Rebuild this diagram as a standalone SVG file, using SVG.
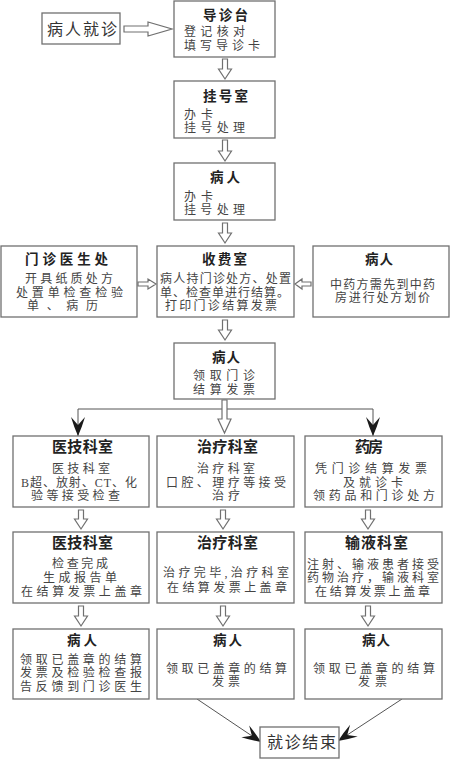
<svg xmlns="http://www.w3.org/2000/svg" width="450" height="759" viewBox="0 0 450 759">
<style>
.box{fill:#fff;stroke:#707070;stroke-width:1.3}
.t{font-family:"Noto Sans CJK SC",sans-serif;font-weight:bold;font-size:13.5px;fill:#222}
.t2{font-family:"Noto Sans CJK SC",sans-serif;font-weight:bold;font-size:15px;fill:#222}
.b{font-family:"Liberation Serif","Noto Sans CJK SC",serif;font-size:12px;fill:#444}
.big{font-family:"Noto Sans CJK SC",sans-serif;font-size:16px;fill:#333}
.ha{fill:#fff;stroke:#707070;stroke-width:1.2}
.ln{fill:none;stroke:#555;stroke-width:1}
.bh{fill:#1a1a1a}
</style>
<defs>
<path id="head" class="bh" d="M0,0 Q-9,-4 -19,-7 L-11,0 L-19,7 Q-9,4 0,0 Z"/>
</defs>
<rect width="450" height="759" fill="#fff"/>
<g id="connectors">
<path class="ha" d="M124,26 H148 V22 L172,29 L148,36 V32 H124 Z"/>
<path class="ha" d="M222.5,59 H227.5 V69 H231.5 L225,79 L218.5,69 H222.5 Z"/>
<path class="ha" d="M222.5,140 H227.5 V151 H231.5 L225,161 L218.5,151 H222.5 Z"/>
<path class="ha" d="M222.5,223 H227.5 V233 H231.5 L225,243 L218.5,233 H222.5 Z"/>
<path class="ha" d="M138,282 H148 V279 L156,284 L148,289 V286 H138 Z"/>
<path class="ha" d="M311,282 H302 V279 L295,284 L302,289 V286 H311 Z"/>
<path class="ha" d="M222.5,320 H227.5 V330 H231.5 L225,340 L218.5,330 H222.5 Z"/>
<path class="ln" d="M78,436 V409 H373 V436"/>
<use href="#head" transform="translate(78,436) rotate(90)"/>
<use href="#head" transform="translate(373,436) rotate(90)"/>
<path class="ha" d="M222,400 H227 V419 H231 L224.5,433 L218,419 H222 Z"/>
<path class="ha" d="M78.5,510 H83.5 V519 H87.5 L81,529 L74.5,519 H78.5 Z"/>
<path class="ha" d="M220.5,510 H225.5 V519 H229.5 L223,529 L216.5,519 H220.5 Z"/>
<path class="ha" d="M365.5,510 H370.5 V519 H374.5 L368,529 L361.5,519 H365.5 Z"/>
<path class="ha" d="M78.5,606 H83.5 V616 H87.5 L81,626 L74.5,616 H78.5 Z"/>
<path class="ha" d="M220.5,606 H225.5 V616 H229.5 L223,626 L216.5,616 H220.5 Z"/>
<path class="ha" d="M365.5,606 H370.5 V616 H374.5 L368,626 L361.5,616 H365.5 Z"/>
<line class="ln" x1="197" y1="699" x2="258" y2="740"/>
<line class="ln" x1="402" y1="699" x2="341" y2="739"/>
<use href="#head" transform="translate(261,742) rotate(34)"/>
<use href="#head" transform="translate(338,741) rotate(147)"/>
</g>
<g id="start">
<rect class="box" x="42" y="13" width="78" height="31"/>
<text class="big" x="47" y="35" textLength="70">病人就诊</text>
</g>
<g id="guide">
<rect class="box" x="174" y="1" width="101" height="56"/>
<text class="t" x="203" y="20" textLength="45">导诊台</text>
<text class="b" x="184" y="36" textLength="61">登记核对</text>
<text class="b" x="184" y="50" textLength="76">填写导诊卡</text>
</g>
<g id="register">
<rect class="box" x="174" y="81" width="101" height="57"/>
<text class="t" x="203" y="101" textLength="45">挂号室</text>
<text class="b" x="184" y="119" textLength="29">办卡</text>
<text class="b" x="184" y="132" textLength="61">挂号处理</text>
</g>
<g id="patient1">
<rect class="box" x="174" y="163" width="101" height="57"/>
<text class="t" x="210" y="182" textLength="30">病人</text>
<text class="b" x="184" y="201" textLength="29">办卡</text>
<text class="b" x="184" y="214" textLength="61">挂号处理</text>
</g>
<g id="doctor">
<rect class="box" x="1" y="246" width="136" height="71"/>
<text class="t" x="25" y="264" textLength="83">门诊医生处</text>
<text class="b" x="25" y="283" textLength="88">开具纸质处方</text>
<text class="b" x="16" y="297" textLength="107">处置单检查检验</text>
<text class="b" x="27" y="310" textLength="71">单、病历</text>
</g>
<g id="cashier">
<rect class="box" x="157" y="246" width="137" height="71"/>
<text class="t" x="202" y="264" textLength="45">收费室</text>
<text class="b" x="160" y="283" textLength="131">病人持门诊处方、处置</text>
<text class="b" x="160" y="297" textLength="129">单、检查单进行结算。</text>
<text class="b" x="165" y="310" textLength="112">打印门诊结算发票</text>
</g>
<g id="patient-herb">
<rect class="box" x="313" y="246" width="136" height="71"/>
<text class="t" x="365" y="264" textLength="28">病人</text>
<text class="b" x="330" y="289" textLength="105">中药方需先到中药</text>
<text class="b" x="335" y="302" textLength="95">房进行处方划价</text>
</g>
<g id="patient2">
<rect class="box" x="174" y="343" width="101" height="56"/>
<text class="t" x="212" y="362" textLength="28">病人</text>
<text class="b" x="193" y="380" textLength="62">领取门诊</text>
<text class="b" x="193" y="394" textLength="62">结算发票</text>
</g>
<g id="medtech1">
<rect class="box" x="13" y="436" width="136" height="71"/>
<text class="t2" x="52" y="452" textLength="61">医技科室</text>
<text class="b" x="52" y="473" textLength="58">医技科室</text>
<text class="b" x="21" y="487" textLength="116">B超、放射、CT、化</text>
<text class="b" x="31" y="500" textLength="89">验等接受检查</text>
</g>
<g id="treat1">
<rect class="box" x="157" y="436" width="137" height="71"/>
<text class="t2" x="197" y="452" textLength="61">治疗科室</text>
<text class="b" x="197" y="473" textLength="58">治疗科室</text>
<text class="b" x="166" y="487" textLength="120">口腔、理疗等接受</text>
<text class="b" x="212" y="500" textLength="28">治疗</text>
</g>
<g id="pharmacy">
<rect class="box" x="305" y="436" width="137" height="71"/>
<text class="t2" x="355" y="452" textLength="28">药房</text>
<text class="b" x="315" y="473" textLength="112">凭门诊结算发票</text>
<text class="b" x="343" y="487" textLength="60">及就诊卡</text>
<text class="b" x="313" y="500" textLength="122">领药品和门诊处方</text>
</g>
<g id="medtech2">
<rect class="box" x="13" y="532" width="136" height="71"/>
<text class="t2" x="52" y="548" textLength="61">医技科室</text>
<text class="b" x="52" y="568" textLength="56">检查完成</text>
<text class="b" x="43" y="582" textLength="74">生成报告单</text>
<text class="b" x="21" y="596" textLength="121">在结算发票上盖章</text>
</g>
<g id="treat2">
<rect class="box" x="157" y="532" width="137" height="71"/>
<text class="t2" x="197" y="548" textLength="61">治疗科室</text>
<text class="b" x="163" y="577" textLength="126">治疗完毕,治疗科室</text>
<text class="b" x="167" y="592" textLength="120">在结算发票上盖章</text>
</g>
<g id="infusion">
<rect class="box" x="305" y="532" width="137" height="71"/>
<text class="t2" x="345" y="548" textLength="63">输液科室</text>
<text class="b" x="307" y="569" textLength="132">注射、输液患者接受</text>
<text class="b" x="307" y="582" textLength="132">药物治疗，输液科室</text>
<text class="b" x="315" y="596" textLength="115">在结算发票上盖章</text>
</g>
<g id="patient3">
<rect class="box" x="13" y="629" width="136" height="70"/>
<text class="t" x="67" y="645" textLength="30">病人</text>
<text class="b" x="20" y="664" textLength="122">领取已盖章的结算</text>
<text class="b" x="20" y="677" textLength="122">发票及检验检查报</text>
<text class="b" x="20" y="691" textLength="122">告反馈到门诊医生</text>
</g>
<g id="patient4">
<rect class="box" x="157" y="629" width="137" height="70"/>
<text class="t" x="213" y="645" textLength="29">病人</text>
<text class="b" x="166" y="673" textLength="121">领取已盖章的结算</text>
<text class="b" x="212" y="686" textLength="28">发票</text>
</g>
<g id="patient5">
<rect class="box" x="305" y="629" width="137" height="70"/>
<text class="t" x="362" y="645" textLength="28">病人</text>
<text class="b" x="313" y="673" textLength="122">领取已盖章的结算</text>
<text class="b" x="358" y="686" textLength="29">发票</text>
</g>
<g id="end">
<rect class="box" x="260" y="727" width="79" height="31"/>
<text class="big" x="267" y="748" textLength="69">就诊结束</text>
</g>
</svg>
